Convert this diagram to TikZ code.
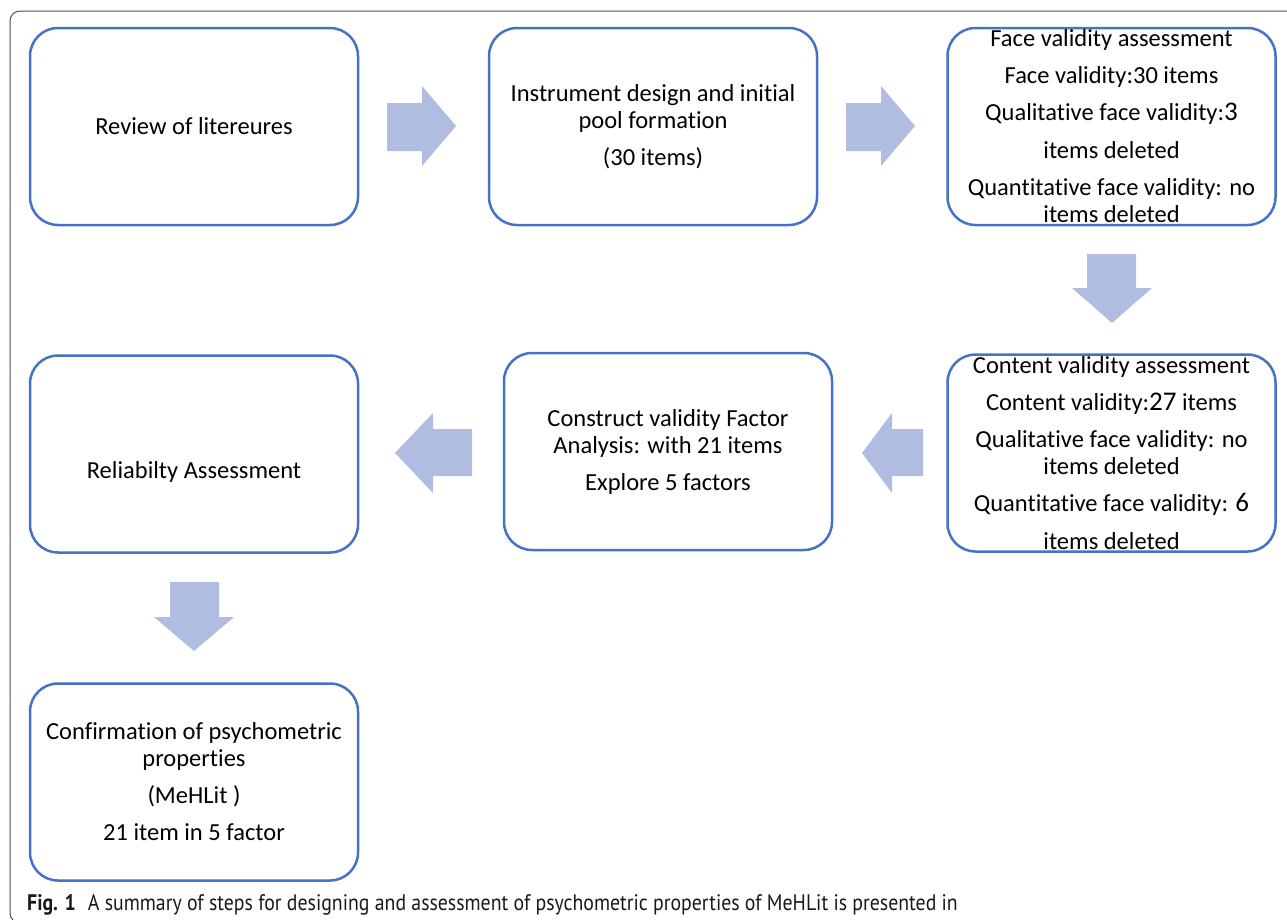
\documentclass[tikz,border=0pt]{standalone}
\usepackage{fontspec}
\setmainfont{Carlito}[Ligatures={NoCommon}]
\newfontfamily\capfont[FakeStretch=0.88]{PT Sans}
\definecolor{boxblue}{HTML}{4472C4}
\definecolor{arrowfill}{RGB}{176,188,224}
\definecolor{framegray}{HTML}{505050}
\begin{document}
\begin{tikzpicture}[x=1pt,y=-1pt,
  stepbox/.style={draw=boxblue, line width=2.5pt, rounded corners=28pt, minimum width=328pt, minimum height=197pt, inner sep=0pt},
  steptext/.style={font=\fontsize{24.5}{27}\selectfont, align=center, inner sep=0pt, text=black},
  blockarrow/.style={fill=arrowfill, draw=none}]
\useasboundingbox (0,0) rectangle (1287,919);
\draw[framegray, line width=1pt, rounded corners=10pt] (1300,923) -- (10,923) -- (10,11) -- (1300,11);

\node[stepbox] (b1) at (194,126.5) {};
\node[stepbox] (b2) at (653,126.5) {};
\node[stepbox] (b3) at (1111.5,126.5) {};
\node[stepbox] (b4) at (1111.5,453) {};
\node[stepbox] (b5) at (668,451.5) {};
\node[stepbox] (b6) at (194,454) {};
\node[stepbox] (b7) at (194,782) {};

\node[steptext] (t1) at (b1.center) {Review of litereures};
\node[steptext] (t2) at (b2.center) {Instrument design and initial\\ pool formation\\[10pt] (30 items)};
\node[steptext] (t3) at (b3.center) {Face validity assessment\\[10pt] Face validity:30 items\\[10pt] Qualitative face validity:{\fontsize{27}{27}\selectfont 3}\\[11pt] items deleted\\[10pt] Quantitative face validity: no\\ items deleted};
\node[steptext] (t4) at (b4.center) {Content validity assessment\\[10pt] Content validity:{\fontsize{27}{27}\selectfont 27} items\\[10pt] Qualitative face validity: no\\ items deleted\\[10pt] Quantitative face validity: {\fontsize{27}{27}\selectfont 6}\\[11pt] items deleted};
\node[steptext] (t5) at (b5.center) {Construct validity Factor\\ Analysis: with 21 items\\[10pt] Explore 5 factors};
\node[steptext] (t6) at ([yshift=-18pt]b6.center) {Reliabilty Assessment};
\node[steptext] (t7) at (b7.center) {Confirmation of psychometric\\ properties\\[10pt] (MeHLit )\\[10pt] 21 item in 5 factor};

\fill[blockarrow] (387,103) -- (422,103) -- (422,86) -- (456,126) -- (422,166) -- (422,151) -- (387,151) -- cycle;
\fill[blockarrow] (846,103) -- (881,103) -- (881,86) -- (915,126) -- (881,166) -- (881,151) -- (846,151) -- cycle;
\fill[blockarrow] (1087,254) -- (1136,254) -- (1136,288) -- (1152,288) -- (1112,323) -- (1072,288) -- (1087,288) -- cycle;
\fill[blockarrow] (923,429) -- (892,429) -- (892,413) -- (862,453) -- (892,493) -- (892,476) -- (923,476) -- cycle;
\fill[blockarrow] (472,429) -- (433,429) -- (433,413) -- (395,453) -- (433,493) -- (433,476) -- (472,476) -- cycle;
\fill[blockarrow] (170,582) -- (219,582) -- (219,617) -- (234,617) -- (194,651) -- (154,617) -- (170,617) -- cycle;

\node[anchor=base west, inner sep=0pt, font=\capfont\fontsize{22.5}{24}\selectfont, text=black!90] (cap) at (27,910) {\textbf{Fig. 1}\hspace{12pt}A summary of steps for designing and assessment of psychometric properties of MeHLit is presented in};
\end{tikzpicture}
\end{document}
